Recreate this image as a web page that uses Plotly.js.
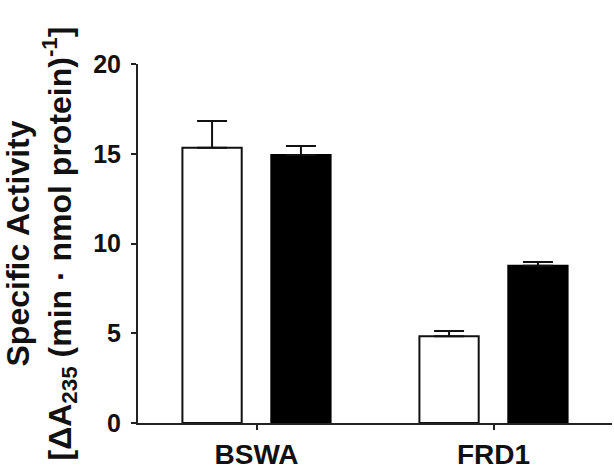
<!DOCTYPE html>
<html>
<head>
<meta charset="utf-8">
<script src="https://cdn.plot.ly/plotly-3.0.1.min.js"></script>
<style>html,body{margin:0;padding:0;background:#fff;}#chart{width:614px;height:474px;}</style>
</head>
<body>
<div id="chart"></div>
<script>
const categories = ["BSWA", "FRD1"];
const openValues = [15.34, 4.83];
const openErrors = [1.48, 0.30];
const filledValues = [14.93, 8.76];
const filledErrors = [0.50, 0.21];
const yTickVals = [0, 5, 10, 15, 20];

const font = "Liberation Sans, Arial, Helvetica, sans-serif";

const traces = [
  {
    type: "bar", name: "open", x: categories, y: openValues,
    marker: {color: "#ffffff", line: {color: "#111111", width: 2}},
    error_y: {type: "data", symmetric: false, array: openErrors, arrayminus: [0, 0],
              color: "#111111", thickness: 2, width: 15}
  },
  {
    type: "bar", name: "filled", x: categories, y: filledValues,
    marker: {color: "#000000", line: {color: "#000000", width: 2}},
    error_y: {type: "data", symmetric: false, array: filledErrors, arrayminus: [0, 0],
              color: "#111111", thickness: 2, width: 15}
  }
];

const layout = {
  width: 614, height: 474,
  margin: {l: 138, r: 2, t: 64, b: 51},
  paper_bgcolor: "#ffffff", plot_bgcolor: "#ffffff",
  showlegend: false,
  barmode: "group", bargap: 0.25, bargroupgap: 0.333,
  font: {family: font, color: "#111111"},
  xaxis: {
    type: "category", range: [-0.5, 1.5],
    showline: true, linecolor: "#222222", linewidth: 2,
    ticks: "outside", ticklen: 5, tickwidth: 2, tickcolor: "#222222",
    showgrid: false, zeroline: false,
    tickfont: {family: font, size: 28, weight: "bold", color: "#111111"}
  },
  yaxis: {
    range: [0, 20], tickvals: yTickVals, ticktext: yTickVals.map(String),
    showline: true, linecolor: "#222222", linewidth: 2,
    ticks: "outside", ticklen: 5, tickwidth: 2, tickcolor: "#222222",
    showgrid: false, zeroline: false,
    ticklabelstandoff: 5,
    tickfont: {family: font, size: 25, weight: "bold", color: "#111111"},
    title: {
      text: "Specific Activity<br>[ΔA<sub>235</sub> (min · nmol protein)<sup>-1</sup>]",
      font: {family: font, size: 32, weight: "bold", color: "#111111"},
      standoff: 20
    }
  }
};

Plotly.newPlot("chart", traces, layout, {displayModeBar: false, staticPlot: true});
</script>
</body>
</html>
